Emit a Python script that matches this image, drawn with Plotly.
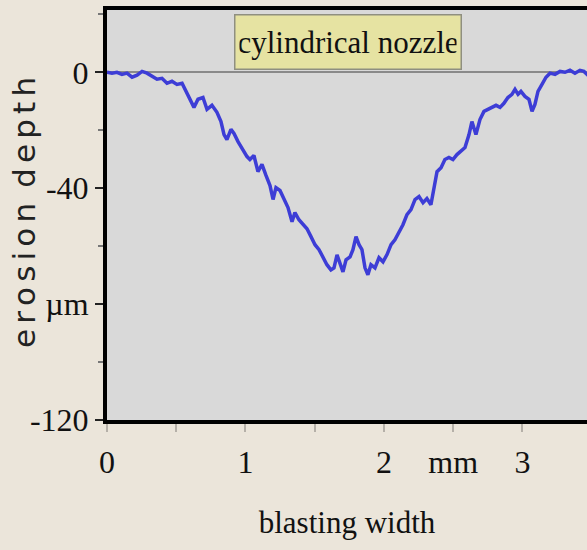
import plotly.graph_objects as go

# blasting width (mm) and erosion depth (µm)
width_mm = [0.000, 0.036, 0.072, 0.108, 0.144, 0.181, 0.217, 0.253, 0.289, 0.325,
            0.361, 0.397, 0.433, 0.469, 0.505, 0.542, 0.570, 0.599, 0.628, 0.657,
            0.693, 0.722, 0.758, 0.794, 0.823, 0.845, 0.866, 0.895, 0.917, 0.946,
            0.982, 1.011, 1.032, 1.061, 1.090, 1.119, 1.148, 1.177, 1.199, 1.220,
            1.249, 1.278, 1.307, 1.336, 1.357, 1.386, 1.415, 1.444, 1.473, 1.502,
            1.531, 1.560, 1.588, 1.617, 1.639, 1.661, 1.682, 1.704, 1.726, 1.755,
            1.776, 1.798, 1.820, 1.841, 1.863, 1.884, 1.906, 1.935, 1.964, 1.993,
            2.022, 2.051, 2.079, 2.108, 2.137, 2.166, 2.195, 2.224, 2.253, 2.282,
            2.310, 2.339, 2.361, 2.383, 2.412, 2.440, 2.469, 2.498, 2.527, 2.556,
            2.585, 2.614, 2.635, 2.664, 2.693, 2.722, 2.751, 2.780, 2.809, 2.838,
            2.866, 2.895, 2.924, 2.946, 2.968, 2.989, 3.018, 3.047, 3.069, 3.090,
            3.112, 3.141, 3.170, 3.199, 3.235, 3.271, 3.307, 3.343, 3.379, 3.415,
            3.444, 3.487]
depth_um = [0.0, -0.3, 0.0, -0.7, -0.3, -1.7, -1.0, 0.3, -0.3, -1.4,
            -2.4, -2.1, -3.8, -3.1, -4.2, -3.8, -6.6, -9.3, -12.1, -9.3,
            -8.7, -12.8, -11.4, -13.8, -17.0, -21.5, -23.2, -19.7, -21.1, -23.9,
            -26.6, -29.1, -30.1, -28.7, -34.3, -31.8, -35.6, -39.1, -43.9, -39.8,
            -40.8, -43.9, -46.7, -51.6, -48.4, -50.9, -52.6, -54.0, -56.7, -59.5,
            -61.2, -64.0, -66.4, -68.2, -67.5, -63.0, -66.4, -68.9, -64.7, -63.7,
            -61.2, -56.7, -59.5, -61.2, -67.5, -69.9, -66.4, -67.5, -64.0, -65.4,
            -62.9, -59.5, -57.8, -55.0, -52.6, -49.1, -47.4, -43.9, -42.9, -45.0,
            -43.6, -45.7, -40.5, -34.3, -32.9, -30.1, -29.4, -30.1, -28.4, -27.3,
            -26.0, -21.5, -17.0, -21.5, -16.3, -13.5, -12.8, -12.1, -11.4, -12.1,
            -10.7, -8.7, -7.6, -5.9, -7.6, -6.6, -8.3, -9.3, -13.5, -11.1,
            -6.6, -4.2, -1.7, -0.3, -0.7, 0.3, 0.0, 0.7, -0.3, 0.7,
            0.3, -1.7]

x_tickvals = [0, 0.5, 1, 1.5, 2, 2.5, 3]
x_ticktext = ["0", "", "1", "", "2", "mm", "3"]
y_tickvals = [0, -40, -80, -120]
y_ticktext = ["0", "-40", "µm", "-120"]
y_minor_tickvals = [20, -20, -60, -100]

sp = "\u2006"
ytitle = sp.join("erosion") + " " + sp + sp.join("depth")

fig = go.Figure()
fig.add_trace(go.Scatter(x=width_mm, y=depth_um, mode="lines",
                         line=dict(color="#3d3dd6", width=3.5), hoverinfo="skip"))

serif = "Liberation Serif"
fig.update_layout(
    width=587, height=550,
    margin=dict(l=107, r=0, t=10, b=130),
    paper_bgcolor="#ebe5da",
    plot_bgcolor="#d9d9d9",
    showlegend=False,
    xaxis=dict(range=[0, 3.466], showgrid=False, zeroline=False, automargin=False,
               showline=True, linewidth=4, linecolor="black", mirror=True,
               ticks="outside", ticklen=8, tickwidth=2, tickcolor="#b5b0a8",
               tickvals=x_tickvals, ticktext=x_ticktext,
               ticklabelstandoff=3,
               tickfont=dict(family=serif, size=32, color="#111"),
               title=dict(text="blasting width", standoff=33,
                          font=dict(family=serif, size=31, color="#111"))),
    yaxis=dict(range=[-120, 21.5], showgrid=False, automargin=False,
               zeroline=True, zerolinecolor="#8a8a8a", zerolinewidth=2,
               showline=True, linewidth=4, linecolor="black", mirror=False,
               ticks="outside", ticklen=8, tickwidth=2, tickcolor="#222",
               tickvals=y_tickvals, ticktext=y_ticktext,
               minor=dict(tickvals=y_minor_tickvals, ticks="outside", ticklen=5,
                          tickwidth=2, tickcolor="#777"),
               ticklabelstandoff=0,
               tickfont=dict(family=serif, size=32, color="#111")),
)

# y-axis title, placed as rotated text left of the tick labels
fig.add_annotation(text=ytitle, xref="paper", yref="paper",
                   x=-0.173, y=0.507, xanchor="center", yanchor="middle",
                   textangle=-90, showarrow=False,
                   font=dict(family="DejaVu Sans", size=31, color="#222"))

fig.add_annotation(text="cylindrical nozzle", xref="paper", yref="paper",
                   x=0.502, y=0.921, xanchor="center", yanchor="middle",
                   showarrow=False, bgcolor="#e6e3a2", bordercolor="#8f8f80",
                   borderwidth=1.5, borderpad=4, width=217, height=45,
                   font=dict(family=serif, size=31, color="#111"))

fig.write_html("out.html", config={"displayModeBar": False},
               post_script="document.body.style.margin='0px';"
                           "document.body.style.background='#ebe5da';")
